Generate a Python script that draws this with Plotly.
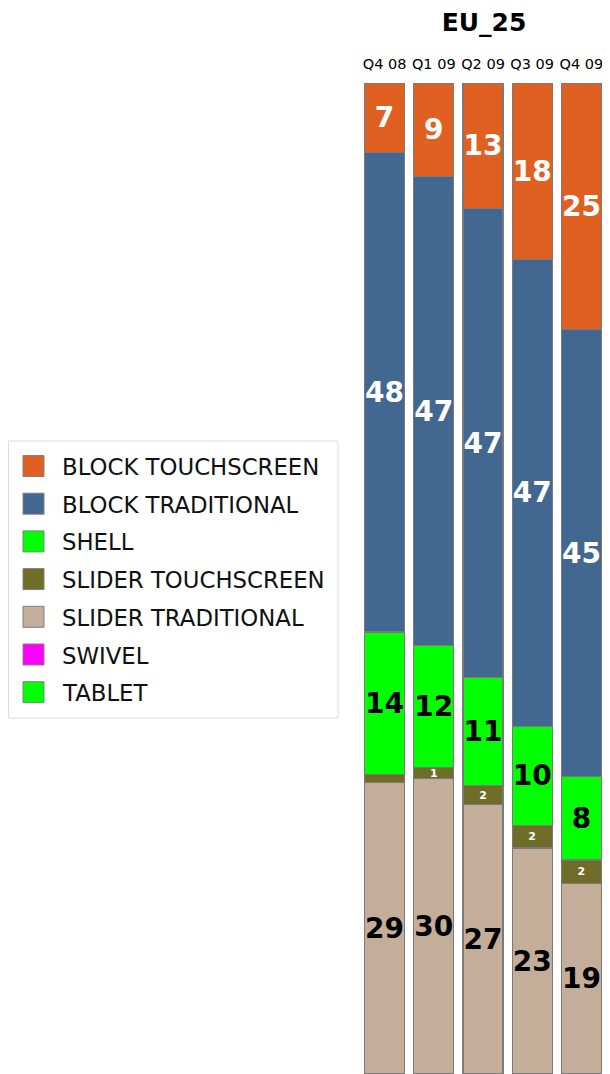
import plotly.graph_objects as go

# page body has an 8px margin: figure is drawn from page (8, 8)
OFF = 8
W, H = 610 - OFF, 1074 - OFF

categories = ["Q4 08", "Q1 09", "Q2 09", "Q3 09", "Q4 09"]

# stacked from bottom to top
slider_traditional = [29.4, 29.8, 27.2, 22.8, 19.2]
slider_touchscreen = [0.8, 1.1, 1.9, 2.3, 2.4]
shell = [14.4, 12.3, 10.9, 10.0, 8.4]
block_traditional = [48.4, 47.4, 47.3, 47.1, 45.1]
block_touchscreen = [7.0, 9.4, 12.7, 17.8, 24.9]
swivel = [0, 0, 0, 0, 0]
tablet = [0, 0, 0, 0, 0]

legend_names = ["BLOCK TOUCHSCREEN", "BLOCK TRADITIONAL", "SHELL",
                "SLIDER TOUCHSCREEN", "SLIDER TRADITIONAL", "SWIVEL", "TABLET"]
colors = {
    "BLOCK TOUCHSCREEN": "#E06022",
    "BLOCK TRADITIONAL": "#426891",
    "SHELL": "#00FF00",
    "SLIDER TOUCHSCREEN": "#6F6D28",
    "SLIDER TRADITIONAL": "#C4AE9A",
    "SWIVEL": "#FF00FF",
    "TABLET": "#00FF00",
}
text_colors = {
    "BLOCK TOUCHSCREEN": "white",
    "BLOCK TRADITIONAL": "white",
    "SHELL": "black",
    "SLIDER TOUCHSCREEN": "white",
    "SLIDER TRADITIONAL": "black",
    "SWIVEL": "black",
    "TABLET": "black",
}
text_sizes = {
    "BLOCK TOUCHSCREEN": 28,
    "BLOCK TRADITIONAL": 28,
    "SHELL": 28,
    "SLIDER TOUCHSCREEN": 11,
    "SLIDER TRADITIONAL": 28,
    "SWIVEL": 28,
    "TABLET": 28,
}

stack = [
    ("SLIDER TRADITIONAL", slider_traditional),
    ("SLIDER TOUCHSCREEN", slider_touchscreen),
    ("SHELL", shell),
    ("BLOCK TRADITIONAL", block_traditional),
    ("BLOCK TOUCHSCREEN", block_touchscreen),
    ("SWIVEL", swivel),
    ("TABLET", tablet),
]

fig = go.Figure()
for name, vals in stack:
    yv = [v if v > 0 else None for v in vals]
    txt = ["<b>%d</b>" % round(v) if v >= 1 else "" for v in vals]
    fig.add_trace(go.Bar(
        x=categories, y=yv, name=name, text=txt,
        textposition="inside", insidetextanchor="middle", textangle=0,
        constraintext="none",
        textfont=dict(family="DejaVu Sans", size=text_sizes[name], color=text_colors[name]),
        marker=dict(color=colors[name], line=dict(color="#7a7a7a", width=1.2)),
        showlegend=False, hoverinfo="x+y+name",
    ))

# plot area in page pixels
PX0, PX1, PY0, PY1 = 360, 606, 83, 1074


def px(x):
    return (x - OFF) / W


def py(y):
    return (PY1 - y) / (PY1 - PY0)


shapes = []
annotations = []
# legend box
shapes.append(dict(type="rect", xref="paper", yref="paper",
                   x0=px(8.5), x1=px(338), y0=py(718), y1=py(441),
                   line=dict(color="#dcdcdc", width=1), fillcolor="white", layer="below"))
row0, rowstep = 466, 37.7
for i, name in enumerate(legend_names):
    yc = row0 + i * rowstep
    shapes.append(dict(type="rect", xref="paper", yref="paper",
                       x0=px(23), x1=px(44), y0=py(yc + 10.5), y1=py(yc - 10.5),
                       line=dict(color="#808080", width=1), fillcolor=colors[name]))
    annotations.append(dict(text=name, xref="paper", yref="paper", x=px(60), y=py(yc + 1),
                            xanchor="left", yanchor="middle", showarrow=False,
                            font=dict(family="DejaVu Sans", size=22.8, color="#111111")))

fig.update_layout(
    width=W, height=H,
    margin=dict(l=0, r=0, t=PY0 - OFF, b=0),
    barmode="stack", bargap=0.19,
    plot_bgcolor="white", paper_bgcolor="white",
    title=dict(text="<b>EU_25</b>", x=(484 - OFF) / W, xanchor="center",
               y=1 - (22 - OFF) / H, yanchor="middle",
               font=dict(family="DejaVu Sans", size=25, color="black")),
    xaxis=dict(domain=[(PX0 - OFF) / W, (PX1 - OFF) / W], side="top", showgrid=False,
               showline=False, ticks="", ticklabelstandoff=10,
               tickfont=dict(family="DejaVu Sans", size=14.5, color="black")),
    yaxis=dict(range=[0, 100], visible=False, showgrid=False),
    shapes=shapes, annotations=annotations,
    showlegend=False,
)

fig.write_html("out.html")
